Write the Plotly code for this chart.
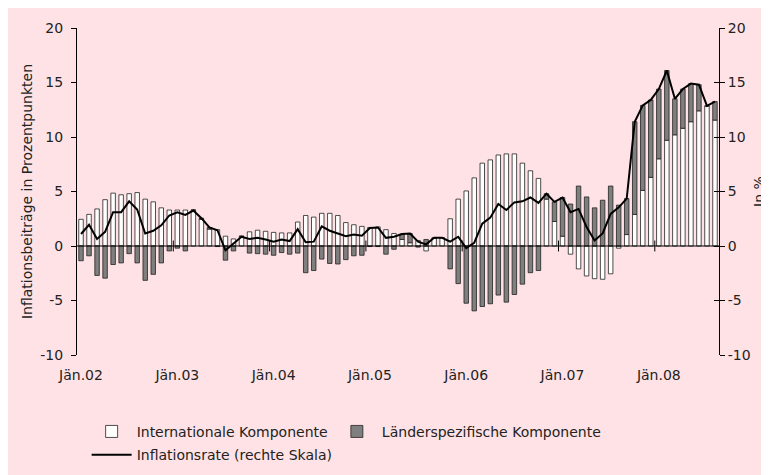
import plotly.graph_objects as go
import pandas as pd

# Monthly categories Jan 2002 - Aug 2008
months = [d.strftime("%Y-%m") for d in pd.date_range("2002-01-01", "2008-08-01", freq="MS")]

tick_months = ["2002-01", "2003-01", "2004-01", "2005-01", "2006-01", "2007-01", "2008-01"]
tick_labels = ["Jän.02", "Jän.03", "Jän.04", "Jän.05", "Jän.06", "Jän.07", "Jän.08"]

y_tickvals = [-10, -5, 0, 5, 10, 15, 20]
y_ticktext = ["-10", "-5", "0", "5", "10", "15", "20"]

international = [
    2.45, 2.9, 3.4, 4.25, 4.85, 4.7, 4.8, 4.9, 4.3, 4.05, 3.5, 3.3,
    3.3, 3.3, 3.3, 2.45, 1.55, 1.5, 0.9, 0.65, 0.9, 1.3, 1.45, 1.35,
    1.25, 1.2, 1.2, 2.2, 2.8, 2.65, 3.0, 3.0, 2.8, 2.15, 1.95, 1.8,
    1.7, 1.75, 1.5, 1.15, 0.6, 0.3, 0.5, -0.45, 0.7, 0.75, 2.5, 4.3,
    5.05, 6.25, 7.6, 7.9, 8.35, 8.45, 8.45, 7.6, 6.9, 6.2, 4.3, 2.25,
    0.9, -0.75, -2.1, -2.75, -3.0, -3.05, -2.55, -0.2, 1.05, 2.9, 5.1, 6.3,
    8.0, 9.7, 10.2, 10.8, 11.4, 12.4, 12.85, 11.55,
]

country_specific = [
    -1.35, -0.9, -2.7, -2.95, -1.7, -1.55, -0.7, -1.55, -3.15, -2.6, -1.55, -0.45,
    -0.2, -0.45, 0.0, 0.1, 0.15, -0.05, -1.3, -0.45, 0.0, -0.65, -0.7, -0.75,
    -0.85, -0.6, -0.75, -0.65, -2.45, -2.25, -1.2, -1.6, -1.65, -1.25, -0.9, -0.85,
    -0.05, -0.05, -0.75, -0.3, 0.5, 0.85, -0.1, 0.6, 0.05, 0.0, -2.1, -3.45,
    -5.25, -5.95, -5.55, -5.3, -4.5, -5.15, -4.45, -3.5, -2.45, -2.25, 0.5, 1.8,
    3.55, 3.85, 5.5, 4.5, 3.5, 4.2, 5.5, 3.75, 3.3, 8.5, 7.8, 7.1,
    6.4, 6.4, 3.3, 3.6, 3.5, 2.4, 0.0, 1.7,
]

inflation = [
    1.1, 1.95, 0.65, 1.3, 3.1, 3.1, 4.1, 3.35, 1.15, 1.4, 1.9, 2.8,
    3.1, 2.85, 3.25, 2.55, 1.7, 1.45, -0.4, 0.2, 0.85, 0.65, 0.75, 0.6,
    0.4, 0.6, 0.45, 1.55, 0.35, 0.4, 1.8, 1.4, 1.15, 0.9, 1.05, 0.95,
    1.65, 1.7, 0.75, 0.85, 1.1, 1.15, 0.4, 0.15, 0.75, 0.75, 0.4, 0.85,
    -0.2, 0.3, 2.05, 2.6, 3.85, 3.3, 4.0, 4.1, 4.45, 3.95, 4.8, 4.05,
    4.45, 3.1, 3.4, 1.75, 0.5, 1.15, 2.95, 3.55, 4.35, 11.4, 12.9, 13.4,
    14.4, 16.1, 13.5, 14.4, 14.9, 14.8, 12.85, 13.25,
]

BG = "rgb(255,226,229)"
FONT = "DejaVu Sans"
TXT = "#222222"

xpos = list(range(len(months)))  # category index of each month
year_starts = [months.index(m) for m in tick_months]

fig = go.Figure()
fig.add_trace(go.Bar(
    x=xpos, y=international, name="Internationale Komponente", legend="legend",
    marker=dict(color="white", line=dict(color="#222222", width=0.8)),
))
fig.add_trace(go.Bar(
    x=xpos, y=country_specific, name="Länderspezifische Komponente", legend="legend3",
    marker=dict(color="#7f7f7f", line=dict(color="#222222", width=0.8)),
))
fig.add_trace(go.Scatter(
    x=xpos, y=inflation, name="Inflationsrate (rechte Skala)", yaxis="y2", legend="legend2",
    mode="lines", line=dict(color="black", width=2),
))
# invisible helper trace so that the inner tick marks of the right axis are drawn
fig.add_trace(go.Scatter(x=[xpos[0]], y=[0], yaxis="y3", mode="lines",
                         showlegend=False, hoverinfo="skip", line=dict(width=0)))

# zero line and year tick marks crossing the zero line
shapes = [dict(type="line", xref="paper", yref="y", x0=0, x1=1, y0=0, y1=0,
               line=dict(color="black", width=1.2), layer="above")]
for s in year_starts[1:]:
    shapes.append(dict(type="line", xref="x", yref="y", x0=s - 0.5, x1=s - 0.5, y0=-0.5, y1=0.5,
                       line=dict(color="black", width=1), layer="above"))

axis_common = dict(range=[-10, 20], tickmode="array", tickvals=y_tickvals, ticktext=y_ticktext,
                   showgrid=False, zeroline=False,
                   showline=True, linecolor="black", linewidth=1,
                   tickfont=dict(family=FONT, size=14, color=TXT))

legend_common = dict(orientation="h", xanchor="left", yanchor="top", bgcolor="rgba(0,0,0,0)",
                     font=dict(family=FONT, size=14, color=TXT), itemwidth=40)

fig.update_layout(
    width=769, height=475,
    paper_bgcolor=BG, plot_bgcolor=BG,
    margin=dict(l=69, r=58, t=20, b=105),
    barmode="relative", bargap=0.44,
    font=dict(family=FONT, size=14, color=TXT),
    showlegend=True,
    shapes=shapes,
    xaxis=dict(range=[-0.5, len(months) - 0.5],
               tickmode="array", tickvals=year_starts, ticktext=tick_labels,
               showgrid=False, zeroline=False, showline=False, ticks="",
               ticklabelstandoff=10,
               tickfont=dict(family=FONT, size=14, color=TXT)),
    yaxis=dict(**axis_common, ticks="outside", ticklen=5, tickcolor="black",
               ticklabelstandoff=5,
               title=dict(text="Inflationsbeiträge in Prozentpunkten",
                          font=dict(family=FONT, size=14, color=TXT), standoff=4),
               automargin=False),
    yaxis2=dict(**axis_common, overlaying="y", side="right", ticks="outside", ticklen=5,
                tickcolor="black",
                title=dict(text="In %", font=dict(family=FONT, size=14, color=TXT), standoff=4),
                automargin=False),
    yaxis3=dict(range=[-10, 20], tickmode="array", tickvals=y_tickvals, overlaying="y", side="right",
                ticks="inside", ticklen=5, tickcolor="black", showticklabels=False,
                showgrid=False, zeroline=False, showline=False),
    legend=dict(**legend_common, x=0.015, y=-0.186),
    legend3=dict(**legend_common, x=0.397, y=-0.186),
    legend2=dict(**legend_common, x=0.015, y=-0.257),
)

fig.write_html("out.html")
